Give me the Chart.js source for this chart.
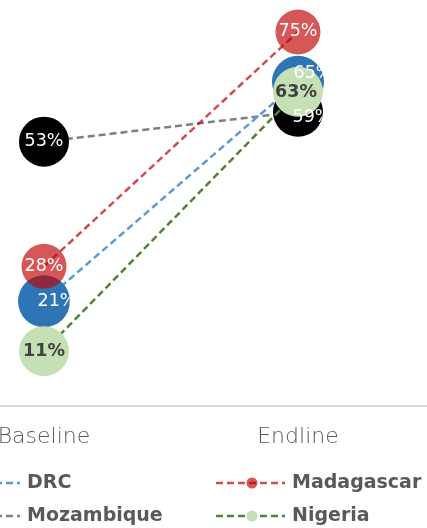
<!DOCTYPE html>
<html lang="en">
<head>
    <meta charset="UTF-8">
    <title>Baseline vs Endline</title>
    <style>
        body {
            margin: 0;
            padding: 0;
            background-color: #fff;
            overflow: hidden;
        }

        .chart-box {
            position: relative;
            width: 427px;
            height: 528px;
        }
    </style>
</head>
<body>
<div class="chart-box">
    <canvas id="slopeChart"></canvas>
</div>
<script src="https://cdn.jsdelivr.net/npm/chart.js"></script>
<script>
    // chart data
    const periods = ['Baseline', 'Endline'];
    const countries = ['DRC', 'Madagascar', 'Mozambique', 'Nigeria'];
    const drcValues = [21, 65];
    const madagascarValues = [28, 75];
    const mozambiqueValues = [53, 59];
    const nigeriaValues = [11, 63];

    const FONT = "'DejaVu Sans', sans-serif";

    // look of each series (marker, line, label)
    const seriesStyles = {
        'DRC': {marker: '#2E75B6', line: '#5B9BD5', radius: 26, order: 2, text: '#fff', bold: false, shift: [[13, 0], [15, -8]]},
        'Madagascar': {marker: 'rgba(192, 0, 0, 0.66)', line: 'rgba(192, 0, 0, 0.7)', radius: 22.5, order: 1, text: '#fff', bold: false, shift: [[0, 0], [0, 0]]},
        'Mozambique': {marker: '#000000', line: '#808080', radius: 25, order: 3, text: '#fff', bold: false, shift: [[0, 0], [14, 6]]},
        'Nigeria': {marker: '#C5E0B4', line: '#548235', radius: 25, order: 0, text: '#404040', bold: true, shift: [[0, 0], [-2, 1]]}
    };

    const seriesValues = {
        'DRC': drcValues,
        'Madagascar': madagascarValues,
        'Mozambique': mozambiqueValues,
        'Nigeria': nigeriaValues
    };

    const datasets = countries.map(name => {
        const s = seriesStyles[name];
        return {
            label: name,
            data: seriesValues[name].map((v, i) => ({x: i, y: v})),
            borderColor: s.line,
            borderWidth: 2.5,
            borderDash: [7, 4],
            backgroundColor: s.marker,
            pointBackgroundColor: s.marker,
            pointBorderWidth: 0,
            pointRadius: s.radius,
            pointHoverRadius: s.radius,
            order: s.order,
            clip: false,
            tension: 0
        };
    });

    // value labels, clipped to their own bubble like in the original
    const valueLabels = {
        id: 'valueLabels',
        afterDatasetsDraw(chart) {
            const ctx = chart.ctx;
            chart.data.datasets.forEach((ds, di) => {
                const s = seriesStyles[ds.label];
                const meta = chart.getDatasetMeta(di);
                meta.data.forEach((pt, i) => {
                    ctx.save();
                    ctx.beginPath();
                    ctx.arc(pt.x, pt.y, s.radius, 0, Math.PI * 2);
                    ctx.clip();
                    ctx.font = (s.bold ? 'bold ' : '') + '17.5px ' + FONT;
                    ctx.fillStyle = s.text;
                    ctx.textAlign = 'center';
                    ctx.textBaseline = 'middle';
                    ctx.fillText(ds.data[i].y + '%', pt.x + s.shift[i][0], pt.y + s.shift[i][1]);
                    ctx.restore();
                });
            });
        }
    };

    // legend in two columns below the axis
    const twoColLegend = {
        id: 'twoColLegend',
        afterDraw(chart) {
            const ctx = chart.ctx;
            const xs = chart.scales.x;
            const colX = [xs.getPixelForValue(0) - 93, xs.getPixelForValue(1) - 82];
            const rowY = [483, 516];
            chart.data.datasets.forEach((ds, di) => {
                const s = seriesStyles[ds.label];
                const x0 = colX[di % 2];
                const y = rowY[Math.floor(di / 2)];
                ctx.save();
                ctx.strokeStyle = s.line;
                ctx.lineWidth = 2.5;
                ctx.setLineDash([7, 4]);
                ctx.beginPath();
                ctx.moveTo(x0, y);
                ctx.lineTo(x0 + 69, y);
                ctx.stroke();
                ctx.setLineDash([]);
                ctx.fillStyle = s.marker;
                ctx.beginPath();
                ctx.arc(x0 + 36, y, 5.5, 0, Math.PI * 2);
                ctx.fill();
                ctx.font = 'bold 19px ' + FONT;
                ctx.fillStyle = '#595959';
                ctx.textAlign = 'left';
                ctx.textBaseline = 'middle';
                ctx.fillText(ds.label, x0 + 76, y);
                ctx.restore();
            });
        }
    };

    new Chart(document.getElementById('slopeChart').getContext('2d'), {
        type: 'line',
        data: {datasets: datasets},
        options: {
            responsive: true,
            maintainAspectRatio: false,
            animation: false,
            layout: {autoPadding: false, padding: 0},
            plugins: {
                legend: {display: false},
                tooltip: {enabled: false}
            },
            scales: {
                x: {
                    type: 'linear',
                    min: -0.1732,
                    max: 1.508,
                    grid: {display: false, drawTicks: false},
                    border: {display: true, color: '#D9D9D9', width: 2},
                    afterBuildTicks: scale => {
                        scale.ticks = periods.map((p, i) => ({value: i}));
                    },
                    afterFit: scale => {
                        scale.height = 122;
                        scale.paddingLeft = 0;
                        scale.paddingRight = 0;
                    },
                    ticks: {
                        padding: 18,
                        color: '#595959',
                        font: {family: FONT, size: 22, weight: '300'},
                        callback: value => periods[value]
                    }
                },
                y: {
                    display: false,
                    min: 0,
                    max: 81.4
                }
            }
        },
        plugins: [valueLabels, twoColLegend]
    });
</script>
</body>
</html>
